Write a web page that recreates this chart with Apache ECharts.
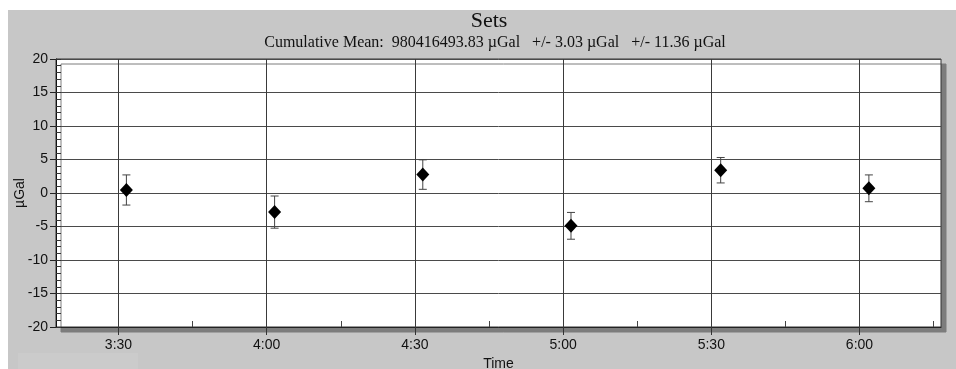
<!DOCTYPE html>
<html>
<head>
<meta charset="utf-8">
<script src="https://cdn.jsdelivr.net/npm/echarts@6/dist/echarts.min.js"></script>
<style>html,body{margin:0;padding:0;background:#fff;}#c{width:956px;height:369px;}</style>
</head>
<body>
<div id="c"></div>
<script>
// Data (time in minutes since midnight)
const setTimes = [211.6, 241.6, 271.6, 301.6, 331.9, 361.9];
const setValues = [0.45, -2.85, 2.75, -4.9, 3.4, 0.7];
const setErrors = [2.25, 2.4, 2.2, 2.0, 1.9, 2.0];
const xMajorTicks = [210, 240, 270, 300, 330, 360];
const xMinorTicks = [225, 255, 285, 315, 345, 375];
const xMin = 197.35, xMax = 376.5;
const titleText = 'Sets';
const subtitleText = 'Cumulative Mean:  980416493.83 \u00b5Gal   +/- 3.03 \u00b5Gal   +/- 11.36 \u00b5Gal';

const fmt = v => { const h = Math.floor(v / 60); const m = Math.round(v - h * 60); return h + ':' + (m < 10 ? '0' : '') + m; };
const pts = setTimes.map((t, i) => [t, setValues[i]]);
const errs = setTimes.map((t, i) => [t, setValues[i] - setErrors[i], setValues[i] + setErrors[i]]);

const chart = echarts.init(document.getElementById('c'), null, {renderer: 'canvas'});
const sans = 'Liberation Sans, Arial, sans-serif';
const serif = 'Liberation Serif, Times New Roman, serif';
chart.setOption({
  animation: false,
  backgroundColor: '#ffffff',
  graphic: [
    {type: 'rect', z: -10, shape: {x: 8, y: 10, width: 948, height: 359}, style: {fill: '#c7c7c7'}},
    {type: 'rect', z: -9, shape: {x: 18, y: 353, width: 120, height: 16}, style: {fill: '#cbcbcb'}},
    {type: 'text', x: 489, y: 21, style: {text: titleText, font: '22px ' + serif, fill: '#111', textAlign: 'center', textVerticalAlign: 'middle'}},
    {type: 'text', x: 495, y: 43, style: {text: subtitleText, font: '16px ' + serif, fill: '#111', textAlign: 'center', textVerticalAlign: 'middle'}}
  ],
  grid: {left: 56, right: 15, top: 59, bottom: 42, show: true, backgroundColor: '#fff', borderColor: '#333', borderWidth: 1,
    outerBoundsMode: 'none', containLabel: false,
    shadowColor: '#7d7d7d', shadowOffsetX: 5, shadowOffsetY: 5, shadowBlur: 0},
  xAxis: [
    {type: 'value', min: xMin, max: xMax, name: 'Time', nameLocation: 'middle', nameGap: 28,
      nameTextStyle: {fontFamily: sans, fontSize: 14, color: '#111'},
      axisLine: {show: true, onZero: false, lineStyle: {color: '#222'}},
      axisTick: {show: true, inside: false, length: 8, customValues: xMajorTicks, lineStyle: {color: '#333'}},
      axisLabel: {customValues: xMajorTicks, formatter: fmt, fontFamily: sans, fontSize: 14, color: '#111', margin: 11},
      splitLine: {show: true, lineStyle: {color: '#3a3a3a', width: 1}}},
    {type: 'value', min: xMin, max: xMax, position: 'bottom',
      axisLine: {show: false, onZero: false},
      axisTick: {show: true, inside: true, length: 6, customValues: xMinorTicks, lineStyle: {color: '#444'}},
      axisLabel: {show: false}, splitLine: {show: false}}
  ],
  yAxis: [
    {type: 'value', min: -20, max: 20, interval: 5, name: '\u00b5Gal', nameLocation: 'middle', nameGap: 29,
      nameMoveOverlap: false,
      nameTextStyle: {fontFamily: sans, fontSize: 14, color: '#111'},
      axisLine: {show: true, onZero: false, lineStyle: {color: '#111'}},
      axisTick: {show: true, inside: false, length: 6, lineStyle: {color: '#222'}},
      axisLabel: {fontFamily: sans, fontSize: 14, color: '#111', margin: 8},
      splitLine: {show: true, lineStyle: {color: '#4a4a4a', width: 1}}},
    {type: 'value', min: -20, max: 20, interval: 1, position: 'left',
      axisLine: {show: false, onZero: false},
      axisTick: {show: true, inside: true, length: 5, lineStyle: {color: '#333'}},
      axisLabel: {show: false}, splitLine: {show: false}}
  ],
  series: [
    {type: 'custom', xAxisIndex: 0, yAxisIndex: 0, z: 3, data: errs,
      renderItem: function (params, api) {
        const top = api.coord([api.value(0), api.value(2)]);
        const bot = api.coord([api.value(0), api.value(1)]);
        const s = {stroke: '#444', lineWidth: 1};
        return {type: 'group', children: [
          {type: 'line', shape: {x1: top[0], y1: top[1], x2: bot[0], y2: bot[1]}, style: s},
          {type: 'line', shape: {x1: top[0] - 4, y1: top[1], x2: top[0] + 4, y2: top[1]}, style: s},
          {type: 'line', shape: {x1: bot[0] - 4, y1: bot[1], x2: bot[0] + 4, y2: bot[1]}, style: s}
        ]};
      }},
    {type: 'scatter', xAxisIndex: 0, yAxisIndex: 0, z: 4, data: pts, symbol: 'diamond', symbolSize: [13, 14],
      itemStyle: {color: '#000', opacity: 1}}
  ]
});
</script>
</body>
</html>
